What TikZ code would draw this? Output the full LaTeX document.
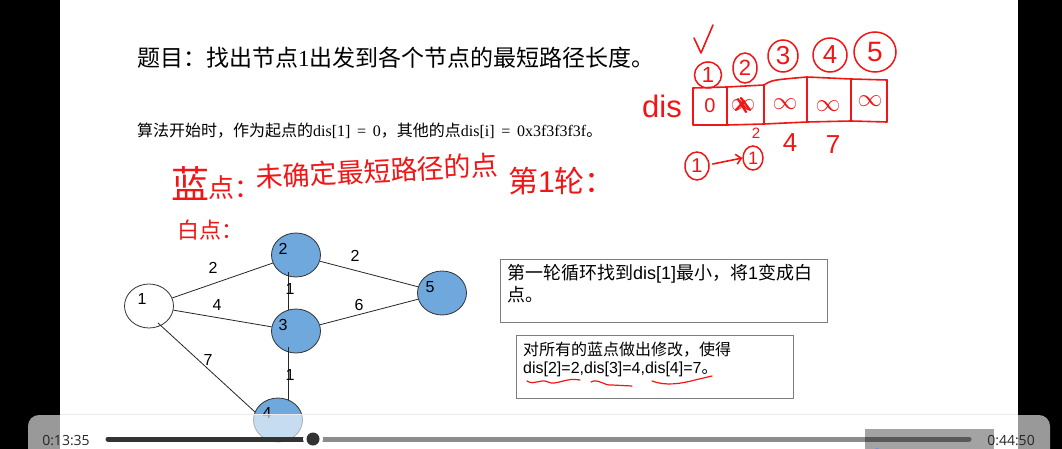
\documentclass[tikz,border=0pt]{standalone}
\usepackage{fontspec}
\setmainfont{Liberation Sans}
\newfontfamily\cjk{Noto Sans CJK SC}
\newfontfamily\tms{Liberation Serif}
\newfontfamily\uifont{Open Sans}
\usetikzlibrary{shapes.geometric,arrows.meta,calc}
\definecolor{nodeblue}{RGB}{111,168,220}
\definecolor{pen}{RGB}{240,22,22}
\definecolor{boxgray}{RGB}{125,125,125}
\newcommand{\fs}[1]{\fontsize{#1}{#1}\selectfont}
\begin{document}
\begin{tikzpicture}[x=1pt,y=-1pt,
  vtx/.style={ellipse, draw=black!80, line width=0.8pt, minimum width=49pt, minimum height=44pt, inner sep=0pt, fill=nodeblue},
  vlab/.style={font=\fs{16}, inner sep=0pt},
  edge/.style={line width=0.8pt, draw=black!85},
  textbox/.style={draw=boxgray, line width=0.9pt, minimum width=#1, inner sep=0pt},
  pentext/.style={text=pen, inner sep=0pt},
  penline/.style={draw=pen, line width=1.6pt, line cap=round, line join=round},
  pencirc/.style={ellipse, draw=pen, line width=1.5pt, text=pen, inner sep=0pt},
  ui/.style={font=\uifont\fs{14}, text=black!85, inner sep=0pt}
]
\useasboundingbox (0,0) rectangle (1062,449);
\fill[black] (0,0) rectangle (60,449);
\fill[black] (1018,0) rectangle (1062,449);
\fill[white] (60,0) rectangle (1018,449);

% printed text
\node[anchor=base west, inner sep=0pt, font=\fs{23}] (title) at (137,67)
  {{\cjk 题目：找出节点}{\tms 1}{\cjk 出发到各个节点的最短路径长度。}};
\node[anchor=base west, inner sep=0pt, font=\fs{16}] (init) at (137,137)
  {{\cjk 算法开始时，作为起点的}{\tms dis[1]\ \,=\ \,0}{\cjk ，其他的点}{\tms dis[i]\ \,=\ \,0x3f3f3f3f}{\cjk 。}};

% graph
\node[vtx, fill=white] (n1) at (149,306) {};
\node[vtx] (n2) at (296,255) {};
\node[vtx] (n3) at (296,331) {};
\node[vtx] (n5) at (442,293) {};
\node[vtx] (n4) at (278,420) {};

\draw[edge] (n1) -- (n2);
\draw[edge] (n1) -- (n3);
\draw[edge] ([shift={(9,17)}]n1.center) -- ([shift={(-23,-8)}]n4.center);
\draw[edge] ([shift={(-8,17)}]n2.center) -- ([shift={(-8,-21)}]n3.center);
\draw[edge] ([shift={(-8,16)}]n3.center) -- ([shift={(10,-20)}]n4.center);
\draw[edge] (n2) -- (n5);
\draw[edge] (n3) -- (n5);

\node[vlab] (l1) at (142,299) {1};
\node[vlab] (l2) at (283,249) {2};
\node[vlab] (l3) at (283,325) {3};
\node[vlab] (l5) at (430,287) {5};
\node[vlab] (l4) at (267,413) {4};

\node[vlab] (w12) at (213,268) {2};
\node[vlab] (w13) at (217,305) {4};
\node[vlab] (w14) at (208,360) {7};
\node[vlab] (w23) at (290,289) {1};
\node[vlab] (w34) at (290,375) {1};
\node[vlab] (w25) at (355,256) {2};
\node[vlab] (w35) at (359,305) {6};

% explanation boxes
\node[textbox=327pt, minimum height=63pt, anchor=north west] (box1) at (500,259) {};
\node[anchor=base west, inner sep=0pt, font=\fs{18}] (box1a) at (507,279)
  {{\cjk 第一轮循环找到}dis[1]{\cjk 最小，将}1{\cjk 变成白}};
\node[anchor=base west, inner sep=0pt, font=\fs{18}] (box1b) at (507,301) {{\cjk 点。}};

\node[textbox=277pt, minimum height=63pt, anchor=north west] (box2) at (516,335) {};
\node[anchor=base west, inner sep=0pt, font=\fs{16}] (box2a) at (523,355)
  {{\cjk 对所有的蓝点做出修改，使得}};
\node[anchor=base west, inner sep=0pt, font=\fs{16}] (box2b) at (523,373)
  {dis[2]=2,dis[3]=4,dis[4]=7{\cjk 。}};

% red handwriting: underlines
\draw[penline, line width=1.2pt] (527,381) .. controls (535,386) and (540,378) .. (548,382) .. controls (556,386) and (566,377) .. (580,380);
\draw[penline, line width=1.2pt] (591,382) .. controls (598,378) and (604,386) .. (612,385) -- (632,386);
\draw[penline, line width=1.2pt] (652,381) .. controls (665,386) and (680,384) .. (695,380) -- (712,376);

% red handwriting: notes
\node[pentext, font=\cjk\fs{38}] (hw1) at (190,184) {蓝};
\node[pentext, font=\cjk\fs{26}, anchor=west] (hw2) at (208,188) {点：};
\node[pentext, font=\cjk\fs{27}, rotate=3] (hw3) at (377,171) {未确定最短路径的点};
\node[pentext, font=\cjk\fs{30}, anchor=west] (hw4) at (508,181) {第{\fontspec{Liberation Sans}1}轮：};
\node[pentext, font=\cjk\fs{22}, anchor=west] (hw5) at (177,230) {白点：};

% red handwriting: dis array
\node[pentext, font=\fs{31}] (dis) at (662,106) {dis};
\draw[penline] (693,88) -- (727,87) -- (764,85) .. controls (772,80) .. (807,77) -- (851,79) -- (887,80);
\draw[penline] (693,88) -- (693,125) -- (727,125) -- (764,124) -- (807,122) -- (851,121) -- (887,122) -- (887,80);
\draw[penline] (727,87) -- (727,125);
\draw[penline] (764,85) -- (764,124);
\draw[penline] (807,77) -- (807,122);
\draw[penline] (851,79) -- (851,121);
\node[pentext, font=\fs{20}] (v1) at (710,106) {0};
\node[pentext, font=\fs{26}] (v2) at (743,105) {$\infty$};
\draw[penline, line width=2.2pt] (738,99) -- (746,112) (741,98) -- (750,110) (744,101) -- (736,110);
\node[pentext, font=\fs{26}] (v3) at (785,104) {$\infty$};
\node[pentext, font=\fs{26}] (v4) at (828,106) {$\infty$};
\node[pentext, font=\fs{28}] (v5) at (870,101) {$\infty$};

\node[pencirc, minimum width=27pt, minimum height=26pt, font=\fs{22}] (c1) at (708,75) {1};
\node[pencirc, minimum width=24pt, minimum height=30pt, font=\fs{22}] (c2) at (745,68) {2};
\node[pencirc, minimum width=30pt, minimum height=32pt, font=\fs{26}] (c3) at (783,56) {3};
\node[pencirc, minimum width=34pt, minimum height=34pt, font=\fs{26}] (c4) at (830,55) {4};
\node[pencirc, minimum width=42pt, minimum height=40pt, font=\fs{28}] (c5) at (875,52) {5};
\coordinate (tickA) at (694,38);
\coordinate (tickB) at (701,53);
\coordinate (tickC) at (713,25);
\draw[penline] (tickA) -- (tickB) -- (tickC);

\node[pentext, font=\fs{15}] (u2) at (756,133) {2};
\node[pentext, font=\fs{26}] (u4) at (790,143) {4};
\node[pentext, font=\fs{26}] (u7) at (833,145) {7};

\node[pencirc, minimum width=24pt, minimum height=28pt, font=\fs{20}] (a1) at (697,166) {1};
\node[pencirc, minimum width=20pt, minimum height=24pt, font=\fs{18}] (a2) at (753,158) {1};
\draw[penline, -{Straight Barb[length=5pt]}] (a1.east) ++(3,-2) coordinate (arrS) (arrS) -- (a2.west);

% video player overlay
\draw[black!8, line width=0.8pt] (60,414) -- (1018,414);
\fill[white, opacity=0.6, rounded corners=11pt] (28,415) rectangle (1050,470);
\fill[black!40, opacity=0.9] (865,429) rectangle (994,455);
\fill[nodeblue!90!blue] (877,453) circle (5);
\coordinate (barL) at (108,439);
\coordinate (barM) at (313,439);
\coordinate (barR) at (969,439);
\draw[black, opacity=0.45, line width=5pt, line cap=round] (barM) -- (barR);
\draw[black!80, line width=5pt, line cap=round] (barL) -- (barM);
\fill[white] (barM) circle (10);
\fill[black!80] (barM) circle (6.5);
\node[ui] (tcur) at (66,441) {0:13:35};
\node[ui] (ttot) at (1011,441) {0:44:50};
\end{tikzpicture}
\end{document}
